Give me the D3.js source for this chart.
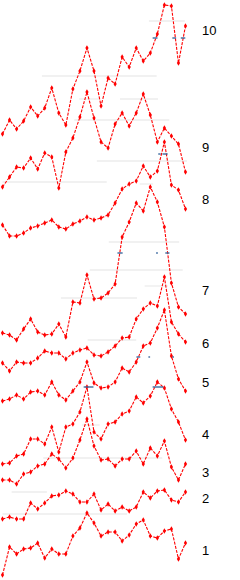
<!DOCTYPE html>
<html><head><meta charset="utf-8">
<script src="https://cdn.jsdelivr.net/npm/d3@7"></script>
<style>html,body{margin:0;padding:0;background:#fff;}svg{display:block;}</style>
</head><body>
<script>
const W = 240, H = 580;
const points = d3.range(27);
const seriesNames = ["1","2","3","4","5","6","7","8","9","10"];
const s1  = [1.0,6.6,5.2,6.2,6.4,7.4,4.4,6.2,5.2,5.2,8.8,10.4,13.4,11.4,8.8,9.6,9.6,7.8,9.0,11.2,12.0,8.8,8.4,9.8,10.2,4.2,7.4];
const s2  = [12.2,12.6,12.2,12.2,15.4,14.2,15.4,16.8,17.0,17.8,17.2,15.6,15.6,17.2,14.0,15.2,13.8,14.6,13.8,14.6,17.6,16.4,17.8,18.0,16.0,15.6,17.6];
const s3  = [20.0,20.0,19.2,21.2,21.6,22.8,23.2,25.2,24.2,22.4,24.4,28.0,32.2,26.8,24.0,24.2,22.8,24.2,24.2,25.8,23.2,26.4,24.8,27.8,22.6,20.0,23.2];
const s4  = [23.2,23.4,24.8,25.2,28.2,28.2,27.2,30.6,25.6,30.6,31.2,33.6,38.6,29.6,28.2,31.2,31.6,33.2,33.8,36.6,35.4,36.8,39.6,38.4,34.2,31.6,28.0];
const s5  = [35.8,36.2,37.0,36.2,37.6,37.8,37.0,39.6,37.0,36.0,37.8,39.6,43.6,39.4,38.4,38.6,39.6,42.4,41.6,43.6,46.8,47.4,50.4,54.0,44.8,40.2,37.8];
const s6  = [43.4,41.8,43.6,43.4,43.4,44.4,45.8,45.4,45.4,44.2,45.4,46.0,46.4,45.0,44.8,45.6,46.8,48.4,48.6,52.2,54.2,55.4,54.8,60.6,51.6,49.2,47.6];
const s7  = [49.4,49.0,48.0,50.2,52.2,49.6,49.0,49.2,51.2,48.6,55.6,55.4,61.0,56.2,56.4,57.4,59.2,68.6,71.6,75.4,73.8,78.6,75.6,70.6,59.4,54.6,53.2];
const s8  = [71.0,68.8,68.8,69.4,70.4,70.8,71.4,72.0,70.6,70.2,71.2,71.8,72.6,72.0,72.4,73.0,75.4,78.2,79.2,79.8,82.8,80.6,81.8,87.6,79.0,78.0,74.2];
const s9  = [78.6,80.6,82.6,82.4,84.4,82.2,85.4,84.6,78.4,85.6,88.4,92.6,97.6,92.4,87.6,86.4,91.2,93.4,90.8,93.4,97.2,93.0,87.6,90.4,88.8,87.2,81.6];
const s10 = [89.2,92.0,90.2,91.8,94.6,92.8,94.4,98.4,93.4,91.0,98.2,101.8,106.4,101.8,94.8,100.4,99.2,104.6,102.6,106.4,103.8,105.4,109.2,115.0,114.8,103.4,110.8];
const labelLevels = [5.9,16.3,21.6,29.2,39.6,47.4,57.9,76.1,86.6,109.9];
// faint reference segments: [from point, to point, level]
const refSegs = [[20.8,25.9,111.8],[5.6,21.9,100.8],[10.9,13.8,96.2],[16.7,22.1,96.2],[10.2,23.7,92.0],
  [0,14.8,79.6],[13.4,26.2,83.8],[19.5,21.4,79.2],[15.1,25.1,67.6],[12.4,25.6,62.0],[8.3,19.1,56.4],
  [20.2,23.5,58.8],[12.1,19.0,48.0],[11.3,13.8,31.0],[5.8,22.7,24.4],[1.3,6.3,17.6],[0,17.7,13.2]];
// blue markers: [from point, to point, level]
const blueMarks = [[21.4,21.95,108.4],[24.2,24.6,108.4],[25.4,25.9,108.4],
  [22.2,22.4,85.2],[22.8,23.4,85.2],
  [16.4,17.0,65.4],[21.9,22.0,65.4],[23.2,23.65,65.4],
  [19.1,19.5,44.6],[20.8,20.9,44.6],[24.2,24.3,44.6],
  [11.6,12.85,38.6],[21.4,22.8,38.6]];

const allSeries = [s1,s2,s3,s4,s5,s6,s7,s8,s9,s10];

const x = d3.scaleLinear().domain([0,26]).range([2.5,185.5]);
const y = d3.scaleLinear().domain([0,116]).range([580,0]);

const svg = d3.select("body").append("svg").attr("width",W).attr("height",H);

svg.append("g").selectAll("line").data(refSegs).join("line")
  .attr("x1",d=>x(d[0])).attr("x2",d=>x(d[1]))
  .attr("y1",d=>y(d[2])).attr("y2",d=>y(d[2]))
  .attr("stroke","#ececec").attr("stroke-width",1.3);

const line = d3.line().x((d,i)=>x(points[i])).y(d=>y(d));

const g = svg.append("g");
allSeries.forEach((s,k)=>{
  g.append("path").attr("d",line(s)).attr("fill","none")
   .attr("stroke","#ff0000").attr("stroke-width",1.1).attr("stroke-dasharray","3,1.3");
  g.append("g").selectAll("path").data(s).join("path")
   .attr("d",d3.symbol(d3.symbolDiamond,9))
   .attr("transform",(d,i)=>`translate(${x(points[i])},${y(d)})`)
   .attr("fill","#ff0000");
});

svg.append("g").selectAll("line").data(blueMarks).join("line")
  .attr("x1",d=>x(d[0])-0.5).attr("x2",d=>x(d[1])+0.5)
  .attr("y1",d=>y(d[2])).attr("y2",d=>y(d[2]))
  .attr("stroke","#3d6aa0").attr("stroke-width",1.4);

svg.append("g").selectAll("text").data(seriesNames).join("text")
  .attr("x",202).attr("y",(d,i)=>y(labelLevels[i]))
  .attr("dy","0.36em")
  .attr("font-family","'Liberation Sans', Arial, sans-serif").attr("font-size",13)
  .attr("fill","#000").text(d=>d);
</script>
</body></html>
